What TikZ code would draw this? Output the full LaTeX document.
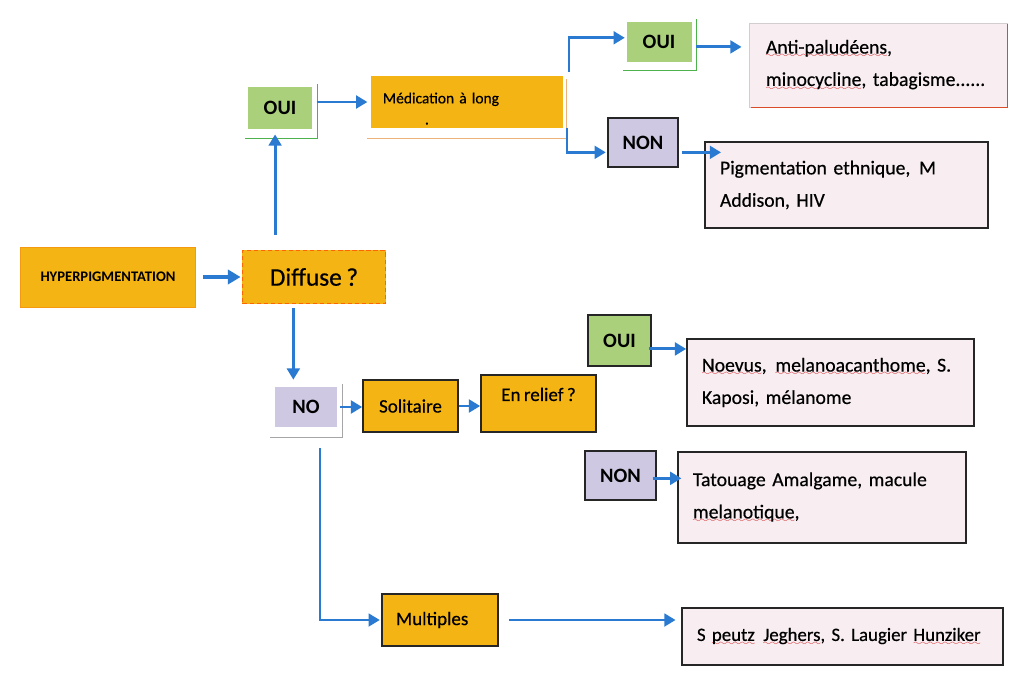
\documentclass[tikz,border=0pt]{standalone}
\usepackage{fontspec}
\setmainfont{Carlito}[WordSpace=0.8, UprightFeatures={FakeBold=0.5}]
\usetikzlibrary{arrows.meta}
\definecolor{orng}{HTML}{F3B414}
\definecolor{grn}{HTML}{AAD07C}
\definecolor{lav}{HTML}{CEC8E2}
\definecolor{pw}{HTML}{F8EEF2}
\definecolor{arrblue}{HTML}{2A7AD2}
\definecolor{dk}{HTML}{262626}
\definecolor{wavered}{HTML}{D02020}
\font\wavefont=lasy6
\newcommand\rw[1]{\leavevmode\setbox0\hbox{#1}\rlap{\raisebox{-3pt}{\hbox to \wd0{\color{wavered}\xleaders\hbox{\wavefont\char58}\hfil}}}\box0}
\begin{document}
\begin{tikzpicture}[x=0.025cm,y=-0.025cm,
  every node/.style={inner sep=0pt, font=\fontsize{14}{23}\selectfont},
  obox/.style={rectangle, fill=orng, draw=dk, line width=1.1pt},
  gbox/.style={rectangle, fill=grn, font=\fontsize{14.5}{17}\selectfont\bfseries},
  lbox/.style={rectangle, fill=lav, font=\fontsize{14.5}{17}\selectfont\bfseries},
  pbox/.style={rectangle, fill=pw, draw=dk, line width=1.1pt, align=left, inner xsep=0.375cm},
  arr/.style={draw=arrblue, line width=2.1pt, -{Triangle[length=8pt,width=9pt]}},
  frame/.style={draw=#1, line width=0.8pt},
]
\useasboundingbox (0,0) rectangle (1024,677);

% nodes
\node[obox, draw=orng!85!red, line width=0.6pt, minimum width=4.375cm, minimum height=1.5cm,
      font=\fontsize{10.4}{12}\selectfont\bfseries] (hyper) at (108,277) {HYPERPIGMENTATION};
\node[obox, draw=orange!80!red, line width=0.7pt, dash pattern=on 3pt off 2pt,
      minimum width=3.575cm, minimum height=1.325cm,
      font=\fontsize{18}{20}\selectfont] (diff) at (314,277) {Diffuse ?};
\node[gbox, minimum width=1.6cm, minimum height=1.025cm] (oui1) at (280,108) {OUI};
\node[obox, draw=none, minimum width=4.8cm, minimum height=1.275cm, align=left,
      text width=4.2cm, font=\fontsize{11}{15}\selectfont] (med) at (467,102)
      {\rule{0pt}{17pt}Médication à long\\\hspace*{1.05cm}.};
\node[gbox, minimum width=1.625cm, minimum height=1.0cm] (oui2) at (659,42) {OUI};
\node[pbox, draw=pw!70!gray, line width=0.5pt, minimum height=2.1cm, text width=5.6cm,
      inner xsep=0.425cm] (anti) at (878,65)
      {\rw{Anti-paludéens},\\\rw{minocycline}, tabagisme......};
\node[lbox, draw=dk, line width=1.1pt, minimum width=1.75cm, minimum height=1.225cm] (non1) at (643,142.5) {NON};
\node[pbox, minimum height=2.15cm, text width=6.325cm] (pigm) at (846.5,185)
      {Pigmentation ethnique,\hspace{0.45em}M\\Addison, HIV};
\node[lbox, minimum width=1.55cm, minimum height=1.0cm] (no) at (306,407) {NO};
\node[obox, minimum width=2.375cm, minimum height=1.3cm, font=\fontsize{13.5}{16}\selectfont] (sol) at (410.5,406) {Solitaire};
\node[obox, minimum width=2.875cm, minimum height=1.425cm, font=\fontsize{13.5}{16}\selectfont] (rel) at (538.5,403.5) {En relief ?\rule[-13pt]{0pt}{1pt}};
\node[gbox, draw=dk, line width=1.1pt, minimum width=1.575cm, minimum height=1.275cm] (oui3) at (619.5,340.5) {OUI};
\node[pbox, minimum height=2.175cm, text width=6.425cm] (noev) at (830.5,382.5)
      {\rw{Noevus},\hspace{0.45em}\rw{melanoacanthome}, S.\\Kaposi, mélanome};
\node[lbox, draw=dk, line width=1.1pt, minimum width=1.775cm, minimum height=1.225cm] (non2) at (620.5,475.5) {NON};
\node[pbox, minimum height=2.275cm, text width=6.45cm] (tat) at (822,497.5)
      {Tatouage Amalgame, macule\\\rw{melanotique},};
\node[obox, minimum width=2.9cm, minimum height=1.3cm, align=left, text width=2.2cm,
      inner xsep=0.35cm, font=\fontsize{13.5}{16}\selectfont] (mult) at (440,620) {Multiples};
\node[pbox, minimum height=1.425cm, text width=7.275cm, font=\fontsize{13.4}{20}\selectfont] (speutz) at (842.5,636.5)
      {\mbox{S \rw{peutz}\hspace{0.45em}\rw{Jeghers}, S. Laugier \rw{Hunziker}}};

% shadow frames
\draw[frame=gray!60!green] ([xshift=3.5pt,yshift=2pt]oui1.north east) -- ([xshift=3.5pt,yshift=-7pt]oui1.south east) -- ([xshift=-2pt,yshift=-7pt]oui1.south west);
\draw[frame=gray!60!green] ([xshift=3.5pt,yshift=2pt]oui2.north east) -- ([xshift=3.5pt,yshift=-6pt]oui2.south east) -- ([xshift=-2pt,yshift=-6pt]oui2.south west);
\draw[frame=gray!70] ([xshift=4pt,yshift=2pt]no.north east) -- ([xshift=4pt,yshift=-7pt]no.south east) -- ([xshift=-3pt,yshift=-7pt]no.south west);
\draw[frame=orange!50!brown!60] ([xshift=2pt,yshift=-2pt]med.north east) -- ([xshift=2pt,yshift=-7pt]med.south east) -- ([xshift=-2pt,yshift=-7pt]med.south west);
\draw[frame=red!40!brown, line width=1pt] ([yshift=-1pt]anti.north east) -- (anti.south east) -- ([xshift=2pt]anti.south west);

% connectors
\coordinate (b1) at (569,72);
\coordinate (b2) at (567,128);
\coordinate (nd) at (320,448);
\draw[arr, line width=2.6pt, -{Triangle[length=9pt,width=10pt]}, shorten <=5pt, shorten >=1pt] (hyper) -- (diff);
\draw[arr, shorten <=11pt, shorten >=4pt] ([xshift=-3.5pt]diff.north -| oui1) -- ([xshift=-3.5pt]oui1.south);
\draw[arr, shorten <=3pt, shorten >=2pt] (oui1.east |- med) -- (med.west);
\draw[arr, shorten >=1pt] (b1) |- ([yshift=3pt]oui2.west);
\draw[arr, shorten >=1pt] (b2) |- ([yshift=-7pt]non1.west);
\draw[arr, shorten <=3pt, shorten >=5pt] ([yshift=-3.5pt]oui2.east) -- ([yshift=-3.5pt]oui2.east -| anti.west);
\draw[arr, shorten <=2pt, shorten >=-12pt] ([yshift=-7pt]non1.east) -- ([yshift=-7pt]non1.east -| pigm.west);
\draw[arr, shorten <=3pt, shorten >=5pt] ([xshift=-9pt]no.north |- diff.south) -- ([xshift=-9pt]no.north);
\draw[arr, shorten <=2pt, shorten >=0pt] (no.east) -- (no.east -| sol.west);
\draw[arr, shorten >=0pt] (sol.east) -- (sol.east -| rel.west);
\draw[arr, shorten <=-2pt, shorten >=0pt] ([yshift=-6pt]oui3.east) -- ([yshift=-6pt]oui3.east -| noev.west);
\draw[arr, shorten <=-3pt, shorten >=-3pt] ([yshift=-2pt]non2.east) -- ([yshift=-2pt]non2.east -| tat.west);
\draw[arr, shorten >=1pt] (nd) |- (mult.west);
\draw[arr, shorten <=7pt, shorten >=4pt] (mult.east) -- (mult.east -| speutz.west);
\end{tikzpicture}
\end{document}
